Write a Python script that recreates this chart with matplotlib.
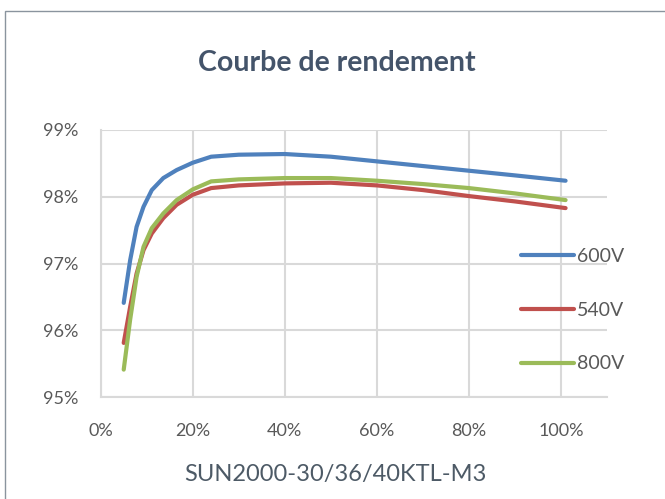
import matplotlib
matplotlib.use("Agg")
import matplotlib.pyplot as plt
from matplotlib.patches import Rectangle
from matplotlib.ticker import FuncFormatter

# charge (%) et rendement (%)
charge = [5, 6.4, 7.8, 9.3, 11.1, 13.6, 16.5, 20, 24, 30, 40, 50, 60, 70, 80, 90, 101]
rend_600 = [96.41, 97.05, 97.55, 97.85, 98.10, 98.28, 98.40, 98.51, 98.60, 98.63,
            98.64, 98.60, 98.53, 98.46, 98.39, 98.32, 98.24]
rend_540 = [95.81, 96.35, 96.85, 97.20, 97.45, 97.68, 97.88, 98.03, 98.13, 98.17,
            98.20, 98.21, 98.17, 98.10, 98.01, 97.93, 97.83]
rend_800 = [95.41, 96.16, 96.80, 97.25, 97.53, 97.75, 97.95, 98.11, 98.23, 98.26,
            98.28, 98.28, 98.24, 98.19, 98.13, 98.05, 97.95]
series = [("600V", rend_600, "#4F81BD"),
          ("540V", rend_540, "#C0504D"),
          ("800V", rend_800, "#9BBB59")]
x_ticks = [0, 20, 40, 60, 80, 100]
y_ticks = [95, 96, 97, 98, 99]

plt.rcParams['font.family'] = ['Lato', 'DejaVu Sans']

fig = plt.figure(figsize=(6.65, 4.99), dpi=100)
fig.patches.append(Rectangle((5 / 665, -0.1), 1.2, 1 - 11 / 499 + 0.1,
                             transform=fig.transFigure, fill=False,
                             edgecolor="#8a949e", linewidth=1))

ax = fig.add_axes([100.7 / 665, 1 - 397 / 499, (607 - 100.7) / 665, (397 - 130) / 499])
for nom, vals, coul in series:
    ax.plot(charge, vals, color=coul, linewidth=3, label=nom,
            solid_capstyle="round", solid_joinstyle="round")

ax.set_xlim(0, 110)
ax.set_ylim(95, 99)
ax.set_xticks(x_ticks)
ax.set_yticks(y_ticks)
ax.xaxis.set_major_formatter(FuncFormatter(lambda v, p: f"{v:.0f}%"))
ax.yaxis.set_major_formatter(FuncFormatter(lambda v, p: f"{v:.0f}%"))
ax.grid(True, color="#d9d9d9", linewidth=1.5)
ax.set_axisbelow(True)
for s in ["top", "right"]:
    ax.spines[s].set_visible(False)
for s in ["left", "bottom"]:
    ax.spines[s].set_color("#d9d9d9")
    ax.spines[s].set_linewidth(1.5)
ax.tick_params(length=0, labelsize=13, colors="#595959")
ax.tick_params(axis="x", pad=19)
ax.tick_params(axis="y", pad=16)

fig.legend(loc="center left", bbox_to_anchor=(521 / 665, 1 - 310 / 499),
           frameon=False, fontsize=14, handlelength=2.75, handletextpad=0.15,
           labelspacing=1.9, borderpad=0, borderaxespad=0, labelcolor="#595959")

fig.text(337 / 665, 1 - 63 / 499, "Courbe de rendement", ha="center", va="center",
         fontsize=20.5, fontweight="bold", color="#44546A")
fig.text(335 / 665, 1 - 475 / 499, "SUN2000-30/36/40KTL-M3", ha="center", va="center",
         fontsize=17, color="#4D5A66")

fig.savefig("out.png", dpi=100)
